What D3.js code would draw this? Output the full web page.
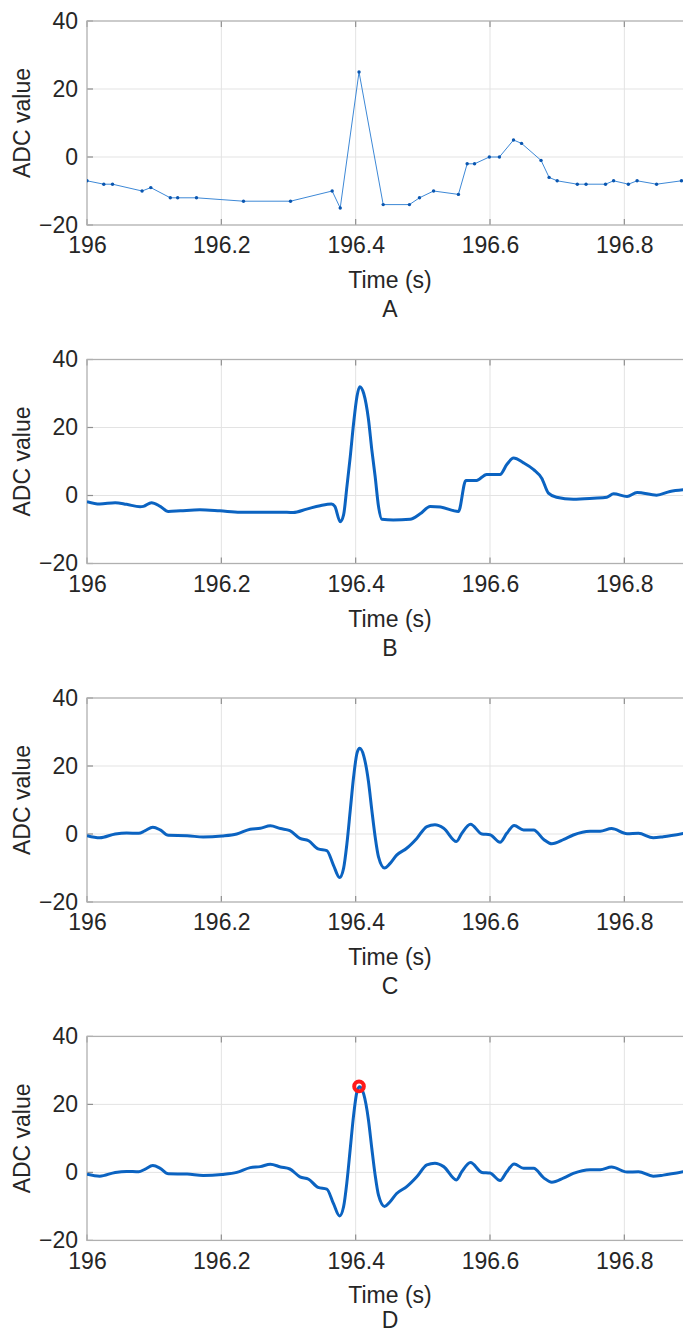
<!DOCTYPE html>
<html>
<head>
<meta charset="utf-8">
<script src="https://cdn.jsdelivr.net/npm/d3@7"></script>
<style>
body { margin: 0; background: #fff; }
text { font-family: "Liberation Sans", Arial, sans-serif; fill: #262626; }
</style>
</head>
<body>
<svg id="fig" width="683" height="1335"></svg>
<script>
// axis ticks and panel names
var xTicks = [196, 196.2, 196.4, 196.6, 196.8];
var yTicks = [-20, 0, 20, 40];
var panelLetters = ['A', 'B', 'C', 'D'];

// A: raw ADC samples (irregular timing)
var aTime = [196.0, 196.025, 196.038, 196.082, 196.095, 196.124, 196.135, 196.163, 196.233, 196.303,
	196.365, 196.377, 196.405, 196.441, 196.48, 196.495, 196.516, 196.553, 196.566, 196.577,
	196.599, 196.614, 196.635, 196.647, 196.676, 196.688, 196.7, 196.73, 196.743, 196.772,
	196.784, 196.806, 196.819, 196.848, 196.885];
var aValue = [-7, -8, -8, -10, -9, -12, -12, -12, -13, -13,
	-10, -15, 25, -14, -14, -12, -10, -11, -2, -2,
	0, 0, 5, 4, -1, -6, -7, -8, -8, -8,
	-7, -8, -7, -8, -7];

// B: resampled signal
var bTime = [196.0, 196.019, 196.042, 196.059, 196.079, 196.084, 196.096, 196.109, 196.121, 196.139,
	196.168, 196.198, 196.228, 196.258, 196.288, 196.307, 196.327, 196.347, 196.364, 196.369,
	196.377, 196.382, 196.387, 196.392, 196.397, 196.402, 196.406, 196.412, 196.419, 196.424,
	196.429, 196.434, 196.439, 196.456, 196.481, 196.496, 196.511, 196.526, 196.553, 196.564,
	196.58, 196.595, 196.615, 196.625, 196.635, 196.65, 196.665, 196.677, 196.687, 196.699,
	196.724, 196.754, 196.774, 196.784, 196.804, 196.819, 196.848, 196.868, 196.888];
var bValue = [-1.8, -2.5, -2.1, -2.6, -3.3, -3.2, -2.1, -3.2, -4.7, -4.5,
	-4.2, -4.5, -4.9, -4.9, -4.9, -5.0, -4.0, -3.0, -2.5, -3.2,
	-7.7, -5.7, 2.7, 11.5, 21.4, 29.2, 32.0, 30.0, 22.5, 13.5,
	5.6, -3.2, -7.0, -7.2, -7.0, -5.4, -3.2, -3.4, -4.7, 4.4,
	4.4, 6.2, 6.2, 9.1, 11.0, 9.6, 7.6, 5.1, 0.7, -0.5,
	-1.1, -0.8, -0.5, 0.5, -0.3, 0.9, 0.1, 1.2, 1.7];

// C and D: filtered signal
var cTime = [196.0, 196.019, 196.042, 196.059, 196.077, 196.086, 196.098, 196.109, 196.121, 196.149,
	196.173, 196.201, 196.223, 196.243, 196.258, 196.273, 196.288, 196.302, 196.317, 196.33,
	196.344, 196.357, 196.367, 196.376, 196.382, 196.387, 196.392, 196.397, 196.402, 196.406,
	196.412, 196.419, 196.424, 196.429, 196.434, 196.443, 196.451, 196.461, 196.476, 196.491,
	196.506, 196.518, 196.531, 196.55, 196.558, 196.571, 196.588, 196.6, 196.615, 196.625,
	196.636, 196.65, 196.665, 196.68, 196.692, 196.71, 196.724, 196.749, 196.764, 196.781,
	196.804, 196.821, 196.843, 196.858, 196.888];
var cValue = [-0.5, -1.1, 0, 0.3, 0.2, 0.9, 2.0, 1.2, -0.4, -0.5,
	-0.9, -0.6, 0, 1.4, 1.7, 2.4, 1.6, 1.0, -1.3, -2.0,
	-4.4, -4.9, -9.2, -12.8, -10.1, -2.8, 7.1, 16.9, 23.8, 25.2,
	23.0, 15.5, 7.1, -0.8, -6.7, -10.0, -8.7, -6.2, -4.2, -1.3,
	2.2, 2.7, 1.7, -2.2, 0.2, 2.9, 0, -0.2, -2.4, 0.2,
	2.5, 1.2, 1.2, -1.6, -2.9, -1.6, -0.3, 0.8, 0.8, 1.6,
	0.1, 0.2, -1.1, -0.8, 0.2];

// detected peak (panel D)
var peakTime = [196.405];
var peakValue = [25.3];

var svg = d3.select('#fig');
var panelTops = [21, 359.5, 698, 1036.4];
var plotH = 204;
var left = 87, right = 691.5;
var lineColor = '#0b63c1';

var panels = [
	{ t: aTime, v: aValue, raw: true },
	{ t: bTime, v: bValue },
	{ t: cTime, v: cValue },
	{ t: cTime, v: cValue, peak: true }
];

var x = d3.scaleLinear().domain([196, 196.9]).range([left, right]);

panels.forEach(function(p, i) {
	var top = panelTops[i];
	var bottom = top + plotH;
	var y = d3.scaleLinear().domain([-20, 40]).range([bottom, top]);
	var g = svg.append('g');

	// clip to the plot box
	g.append('clipPath').attr('id', 'clip' + i).append('rect')
		.attr('x', left).attr('y', top).attr('width', right - left).attr('height', plotH);

	// grid lines
	g.selectAll('.vgrid').data(xTicks.slice(1)).enter().append('line')
		.attr('x1', function(d) { return x(d); }).attr('x2', function(d) { return x(d); })
		.attr('y1', top).attr('y2', bottom)
		.style('stroke', '#e3e3e3').style('stroke-width', 1);
	g.selectAll('.hgrid').data(yTicks.slice(1, -1)).enter().append('line')
		.attr('x1', left).attr('x2', right)
		.attr('y1', function(d) { return y(d); }).attr('y2', function(d) { return y(d); })
		.style('stroke', '#e3e3e3').style('stroke-width', 1);

	// axes (labels only, box drawn below)
	var xAxis = d3.axisBottom(x).tickValues(xTicks).tickSize(0).tickPadding(12)
		.tickFormat(function(d) { return d3.format('')(+d.toFixed(1)); });
	var ax = g.append('g').attr('transform', 'translate(0,' + bottom + ')').call(xAxis);
	var yAxis = d3.axisLeft(y).tickValues(yTicks).tickSize(0).tickPadding(9);
	var ay = g.append('g').attr('transform', 'translate(' + left + ',0)').call(yAxis);
	[ax, ay].forEach(function(a) {
		a.select('.domain').remove();
		a.selectAll('text').style('font-size', '23px').style('fill', '#262626')
			.style('font-family', '"Liberation Sans", Arial, sans-serif');
	});

	// small inward tick marks
	g.selectAll('.tickTop').data(xTicks).enter().append('line')
		.attr('x1', function(d) { return x(d); }).attr('x2', function(d) { return x(d); })
		.attr('y1', top).attr('y2', top + 6)
		.style('stroke', '#8f8f8f').style('stroke-width', 1.2);
	g.selectAll('.tickBot').data(xTicks).enter().append('line')
		.attr('x1', function(d) { return x(d); }).attr('x2', function(d) { return x(d); })
		.attr('y1', bottom).attr('y2', bottom - 6)
		.style('stroke', '#8f8f8f').style('stroke-width', 1.2);
	g.selectAll('.tickLeft').data(yTicks).enter().append('line')
		.attr('x1', left).attr('x2', left + 6)
		.attr('y1', function(d) { return y(d); }).attr('y2', function(d) { return y(d); })
		.style('stroke', '#8f8f8f').style('stroke-width', 1.2);

	g.append('rect').attr('x', left).attr('y', top)
		.attr('width', right - left).attr('height', plotH)
		.style('fill', 'none').style('stroke', '#b0b0b0').style('stroke-width', 1.3);

	// signal
	var pts = p.t.map(function(t, k) { return [t, p.v[k]]; });
	var plot = g.append('g').attr('clip-path', 'url(#clip' + i + ')');
	if (p.raw) {
		var rawLine = d3.line().x(function(d) { return x(d[0]); }).y(function(d) { return y(d[1]); });
		plot.append('path').datum(pts).attr('d', rawLine)
			.style('fill', 'none').style('stroke', '#3d88d6').style('stroke-width', 1);
		plot.selectAll('.dot').data(pts).enter().append('circle')
			.attr('cx', function(d) { return x(d[0]); }).attr('cy', function(d) { return y(d[1]); })
			.attr('r', 1.7).style('fill', '#0a56b0');
	} else {
		var smooth = d3.line().curve(d3.curveMonotoneX)
			.x(function(d) { return x(d[0]); }).y(function(d) { return y(d[1]); });
		plot.append('path').datum(pts).attr('d', smooth)
			.style('fill', 'none').style('stroke', lineColor).style('stroke-width', 3)
			.style('stroke-linejoin', 'round');
	}
	if (p.peak) {
		plot.selectAll('.peak').data(peakTime).enter().append('circle')
			.attr('cx', function(d) { return x(d); })
			.attr('cy', function(d, k) { return y(peakValue[k]); })
			.attr('r', 4.8).style('fill', 'none').style('stroke', '#ff1a1a').style('stroke-width', 4);
	}

	// labels (last letter kept inside the page)
	g.append('text').attr('x', 390).attr('y', bottom + 63).attr('text-anchor', 'middle')
		.style('font-size', '23px').text('Time (s)');
	g.append('text').attr('x', 390).attr('y', Math.min(bottom + 92, 1328)).attr('text-anchor', 'middle')
		.style('font-size', '23px').text(panelLetters[i]);
	g.append('text').attr('transform', 'translate(30,' + (top + plotH / 2) + ') rotate(-90)')
		.attr('text-anchor', 'middle').style('font-size', '23px').text('ADC value');
});
</script>
</body>
</html>
